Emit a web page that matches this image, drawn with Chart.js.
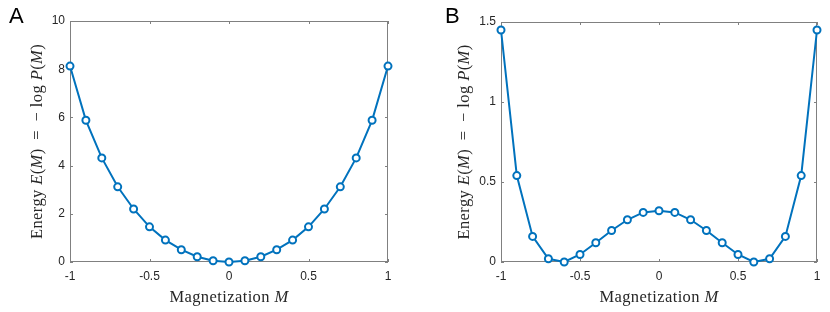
<!DOCTYPE html>
<html>
<head>
<meta charset="utf-8">
<script src="https://cdn.jsdelivr.net/npm/chart.js@4"></script>
<style>
  html, body { margin: 0; padding: 0; background: #fff; }
  #wrap { position: relative; width: 830px; height: 312px; }
  canvas { position: absolute; top: 0; }
  #chartA { left: 0; }
  #chartB { left: 415px; }
</style>
</head>
<body>
<div id="wrap">
  <canvas id="chartA" width="415" height="312"></canvas>
  <canvas id="chartB" width="415" height="312"></canvas>
</div>
<script>
// Magnetization values (x) shared by both panels
const magnetization = [-1, -0.9, -0.8, -0.7, -0.6, -0.5, -0.4, -0.3, -0.2, -0.1, 0,
                       0.1, 0.2, 0.3, 0.4, 0.5, 0.6, 0.7, 0.8, 0.9, 1];

// Panel A: single well
const energyA = [8.13, 5.88, 4.32, 3.12, 2.2, 1.46, 0.91, 0.51, 0.22, 0.05, 0.0,
                 0.05, 0.22, 0.51, 0.91, 1.46, 2.2, 3.12, 4.32, 5.88, 8.13];

// Panel B: double well
const energyB = [1.45, 0.54, 0.16, 0.02, 0.0, 0.047, 0.12, 0.197, 0.264, 0.31, 0.32,
                 0.31, 0.264, 0.197, 0.12, 0.047, 0.0, 0.02, 0.16, 0.54, 1.45];

const xTicks = [-1, -0.5, 0, 0.5, 1];
const yTicksA = [0, 2, 4, 6, 8, 10];
const yTicksB = [0, 0.5, 1, 1.5];

const lineColor = '#0072BD';
const axisColor = '#808080';
const textColor = '#262626';
const tickFont = { family: 'Liberation Sans, Arial, sans-serif', size: 12 };
const serif = 'Liberation Serif, "DejaVu Serif", serif';

// pieces of the axis titles, italic ones are math symbols
const xTitle = [['Magnetization ', false], ['M', true]];
const yTitle = [['Energy ', false], ['E', true], ['(', false], ['M', true], [')\u2002=\u2002\u2212 log ', false],
                ['P', true], ['(', false], ['M', true], [')', false]];

function drawRich(ctx, parts, size) {
    ctx.letterSpacing = '0.4px';
    let total = 0;
    parts.forEach(p => {
        ctx.font = (p[1] ? 'italic ' : '') + size + 'px ' + serif;
        total += ctx.measureText(p[0]).width;
    });
    let x = -total / 2;
    parts.forEach(p => {
        ctx.font = (p[1] ? 'italic ' : '') + size + 'px ' + serif;
        ctx.fillText(p[0], x, 0);
        x += ctx.measureText(p[0]).width;
    });
}

// box with inward ticks on all four sides (matlab style)
const boxPlugin = {
    id: 'box',
    beforeDatasetsDraw(chart) {
        const { ctx, chartArea: a, scales: { x, y } } = chart;
        const t = 3;
        ctx.save();
        ctx.strokeStyle = axisColor;
        ctx.lineWidth = 1;
        ctx.strokeRect(Math.round(a.left) + 0.5, Math.round(a.top) + 0.5,
                       Math.round(a.width) - 1, Math.round(a.height) - 1);
        ctx.beginPath();
        x.ticks.forEach(tk => {
            const px = Math.round(x.getPixelForValue(tk.value)) + 0.5;
            ctx.moveTo(px, a.bottom); ctx.lineTo(px, a.bottom - t);
            ctx.moveTo(px, a.top); ctx.lineTo(px, a.top + t);
        });
        y.ticks.forEach(tk => {
            const py = Math.round(y.getPixelForValue(tk.value)) + 0.5;
            ctx.moveTo(a.left, py); ctx.lineTo(a.left + t, py);
            ctx.moveTo(a.right, py); ctx.lineTo(a.right - t, py);
        });
        ctx.stroke();
        ctx.restore();
    },
    afterDraw(chart, args, opts) {
        const { ctx, chartArea: a } = chart;
        ctx.save();
        ctx.fillStyle = textColor;
        ctx.textBaseline = 'alphabetic';
        // x title
        ctx.save();
        ctx.translate((a.left + a.right) / 2, 302);
        drawRich(ctx, xTitle, 16.5);
        ctx.restore();
        // y title
        ctx.save();
        ctx.translate(opts.yTitleX, (a.top + a.bottom) / 2);
        ctx.rotate(-Math.PI / 2);
        drawRich(ctx, yTitle, 16.5);
        ctx.restore();
        // panel letter
        ctx.fillStyle = '#000';
        ctx.font = '22px Liberation Sans, Arial, sans-serif';
        ctx.fillText(opts.letter, opts.letterX, 23);
        ctx.restore();
    }
};

function makeChart(id, energy, yTicks, yMax, pad, yWidth, yTitleX, letter, letterX) {
    return new Chart(document.getElementById(id), {
        type: 'line',
        data: {
            labels: magnetization,
            datasets: [{
                data: magnetization.map((m, i) => ({ x: m, y: energy[i] })),
                borderColor: lineColor,
                borderWidth: 2,
                pointRadius: 3.5,
                pointBorderWidth: 2,
                pointBorderColor: lineColor,
                pointBackgroundColor: '#fff',
                tension: 0,
                clip: false
            }]
        },
        options: {
            responsive: false,
            animation: false,
            devicePixelRatio: 1,
            layout: { padding: pad },
            plugins: {
                legend: { display: false },
                tooltip: { enabled: false },
                box: { yTitleX: yTitleX, letter: letter, letterX: letterX }
            },
            scales: {
                x: {
                    type: 'linear',
                    min: -1, max: 1,
                    afterBuildTicks: s => { s.ticks = xTicks.map(v => ({ value: v })); },
                    grid: { display: false, drawTicks: false },
                    border: { display: false },
                    ticks: { font: tickFont, color: textColor, padding: 7, maxRotation: 0,
                             callback: v => String(v) },
                    afterFit: s => { s.height = 50; }
                },
                y: {
                    min: 0, max: yMax,
                    afterBuildTicks: s => { s.ticks = yTicks.map(v => ({ value: v })); },
                    grid: { display: false, drawTicks: false },
                    border: { display: false },
                    ticks: { font: tickFont, color: textColor, padding: 5,
                             callback: v => String(v) },
                    afterFit: s => { s.width = yWidth; }
                }
            }
        },
        plugins: [boxPlugin]
    });
}

makeChart('chartA', energyA, yTicksA, 10, { left: 0, right: 27, top: 21, bottom: 0 }, 70, 42, 'A', 9);
makeChart('chartB', energyB, yTicksB, 1.5, { left: 0, right: 13, top: 22, bottom: 0 }, 86, 54, 'B', 30);
</script>
</body>
</html>
